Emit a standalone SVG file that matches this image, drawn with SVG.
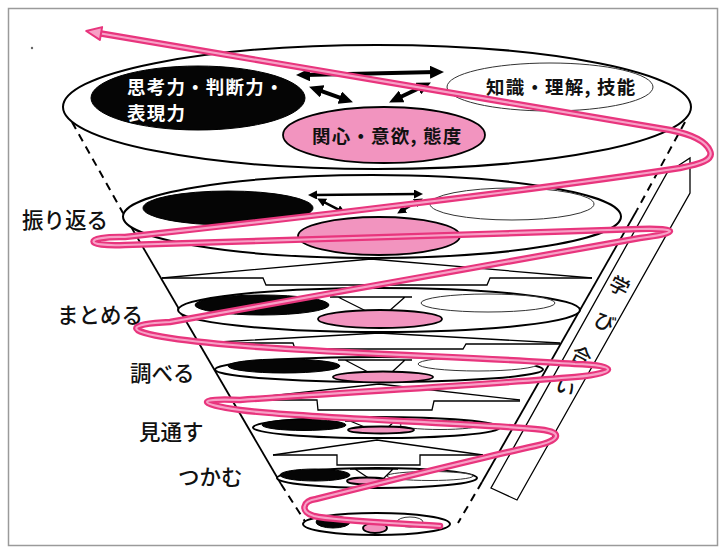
<svg xmlns="http://www.w3.org/2000/svg" width="725" height="550" viewBox="0 0 725 550">
<defs>
<style>
.frame{fill:none;stroke:#9a9a9a;stroke-width:1.5}
.lvl{fill:#fff;stroke:#000;stroke-width:2}
.blk{fill:#050505;stroke:#000;stroke-width:1}
.wht{fill:#fff;stroke:#333;stroke-width:1}
.pnk{fill:#f294bf;stroke:#000;stroke-width:1.8}
.edge{fill:none;stroke:#000;stroke-width:1.8}
.dash{fill:none;stroke:#000;stroke-width:2;stroke-dasharray:8 6}
.thin{fill:none;stroke:#000;stroke-width:1.3}
.arr{fill:none;stroke:#000;stroke-width:4;marker-start:url(#ah);marker-end:url(#ah)}
.arr2{fill:none;stroke:#000;stroke-width:2.5;marker-start:url(#ah2);marker-end:url(#ah2)}
.lab{font-family:"Noto Sans CJK JP","Noto Sans CJK SC",sans-serif;font-size:21.5px;font-weight:500;fill:#111}
.in{font-family:"Noto Sans CJK JP","Noto Sans CJK SC",sans-serif;font-weight:bold;font-size:18.5px;letter-spacing:1.2px}
.band{font-family:"Noto Sans CJK JP","Noto Sans CJK SC",sans-serif;font-size:20px;font-weight:500;fill:#111}
.spo{fill:none;stroke:#e8357d;stroke-width:6.5;stroke-linecap:round;stroke-linejoin:round}
.spi{fill:none;stroke:#f7a0c6;stroke-width:2.2;stroke-linecap:round;stroke-linejoin:round}
</style>
<marker id="ah" viewBox="0 0 14 13" refX="6" refY="6.5" markerWidth="14" markerHeight="13" markerUnits="userSpaceOnUse" orient="auto-start-reverse"><path d="M0,0 L14,6.5 L0,13 z" fill="#000"/></marker>
<marker id="ah2" viewBox="0 0 9 9" refX="4" refY="4.5" markerWidth="9" markerHeight="9" markerUnits="userSpaceOnUse" orient="auto-start-reverse"><path d="M0,0 L9,4.5 L0,9 z" fill="#000"/></marker>
</defs>

<rect class="frame" x="8.5" y="8.5" width="709" height="537"/>
<circle cx="32" cy="48" r="1.2" fill="#666"/>

<g id="connectors">
  <path class="dash" d="M72,122 L123,213"/>
  <path class="edge" d="M123,213 L281,484"/>
  <path class="dash" d="M281,484 L306,523"/>
  <path class="dash" d="M685,122 L637,210"/>
  <path class="edge" d="M637,210 L482,482"/>
  <path class="dash" d="M482,482 L458,523"/>
  <path class="thin" d="M162,278 L371,259 L592,278"/>
  <path class="thin" d="M162,278 L263,278 L266,285 L487,285 L490,278 L592,278"/>
  <path class="thin" d="M200,343 L379,333 L560,343"/>
  <path class="thin" d="M200,343 L293,343 L295,349 L463,349 L466,344 L560,344"/>
  <path class="thin" d="M232,400 L379,384 L520,400"/>
  <path class="thin" d="M232,400 L317,400 L318,410 L432,410 L434,401 L520,401"/>
  <path class="thin" d="M273,455 L377,440 L483,455"/>
  <path class="thin" d="M273,455 L337,455 L337,465 L420,465 L420,455 L483,455"/>
</g>

<g id="level1">
  <ellipse class="lvl" cx="377" cy="107" rx="314" ry="62" stroke-width="2.5"/>
  <ellipse class="blk" cx="198" cy="98" rx="107" ry="32"/>
  <ellipse class="wht" cx="550" cy="87" rx="103" ry="24"/>
  <ellipse class="pnk" cx="384" cy="135" rx="101" ry="28"/>
  <path class="arr" d="M304,74.9 L436,72.1"/>
  <path class="arr" d="M316.6,89.4 L345.4,99.6"/>
  <path class="arr" d="M396.3,99 L423.7,86"/>
  <text class="in" x="127" y="94" fill="#fff">思考力・判断力・</text>
  <text class="in" x="127" y="120" fill="#fff">表現力</text>
  <text class="in" x="486" y="94" fill="#111">知識・理解, 技能</text>
  <text class="in" x="312" y="143" fill="#111">関心・意欲, 態度</text>
</g>

<g id="level2">
  <ellipse class="lvl" cx="372" cy="216.5" rx="249" ry="41.5"/>
  <ellipse class="blk" cx="228" cy="208" rx="85" ry="17"/>
  <ellipse class="wht" cx="512" cy="204" rx="82" ry="16"/>
  <ellipse class="pnk" cx="379" cy="236" rx="81" ry="19"/>
  <path class="arr2" d="M313,195 L418,194"/>
  <path class="arr2" d="M321.6,200.8 L341.4,211.2"/>
  <path class="arr2" d="M418.5,201 L401.5,211"/>
</g>

<g id="level3">
  <ellipse class="lvl" cx="379" cy="310" rx="201" ry="22"/>
  <ellipse class="blk" cx="262" cy="305" rx="67" ry="10"/>
  <ellipse class="wht" cx="488" cy="303" rx="67" ry="9"/>
  <path class="thin" d="M330,297 L412,297 M338,297 L368,312 M405,297 L388,312" stroke-width="1.8"/>
  <ellipse class="pnk" cx="380" cy="319" rx="62" ry="9" stroke-width="1.2"/>
</g>

<g id="level4">
  <ellipse class="lvl" cx="379" cy="369.5" rx="164" ry="12.5"/>
  <ellipse class="blk" cx="284" cy="366" rx="56" ry="7"/>
  <ellipse class="wht" cx="478" cy="364" rx="60" ry="7"/>
  <path class="thin" d="M338,360 L412,360 M345,360 L368,372 M405,360 L392,372" stroke-width="1.6"/>
  <ellipse class="pnk" cx="383" cy="377" rx="50" ry="5.5" stroke-width="1.1"/>
</g>

<g id="level5">
  <ellipse class="lvl" cx="376.5" cy="427.5" rx="123.5" ry="10.5"/>
  <ellipse class="blk" cx="304" cy="425" rx="42" ry="5.5"/>
  <ellipse class="wht" cx="440" cy="425" rx="40" ry="4.5"/>
  <path class="thin" d="M345,421 L400,421 M350,421 L372,430 M395,421 L385,430" stroke-width="1.4"/>
  <ellipse class="pnk" cx="381" cy="430" rx="33" ry="3.5" stroke-width="1"/>
</g>

<g id="level6">
  <ellipse class="lvl" cx="377" cy="478" rx="100" ry="10"/>
  <ellipse class="blk" cx="315" cy="475" rx="35" ry="6"/>
  <ellipse class="wht" cx="430" cy="476" rx="43" ry="4.5"/>
  <path class="thin" d="M350,469 L398,469 M355,469 L370,479 M393,469 L383,479" stroke-width="1.4"/>
  <ellipse class="pnk" cx="367" cy="481" rx="20" ry="3.5" stroke-width="1"/>
</g>

<g id="level7">
  <ellipse class="lvl" cx="376.5" cy="524" rx="73.5" ry="11"/>
  <ellipse class="blk" cx="333" cy="522" rx="17" ry="6"/>
  <ellipse class="pnk" cx="375" cy="528" rx="12" ry="5" stroke-width="1"/>
  <ellipse class="wht" cx="410" cy="522" rx="13" ry="5"/>
</g>

<g id="labels">
  <text class="lab" x="22" y="228">振り返る</text>
  <text class="lab" x="57" y="323">まとめる</text>
  <text class="lab" x="130" y="381">調べる</text>
  <text class="lab" x="139" y="440">見通す</text>
  <text class="lab" x="178" y="485">つかむ</text>
</g>

<g id="manabiai">
  <polygon class="thin" fill="#fff" points="667,173 690,158 690,193 517,500 491,488"/>
  <text class="band" x="620" y="285" text-anchor="middle" dominant-baseline="central" transform="rotate(27 620 285)">学</text>
  <text class="band" x="605" y="321" text-anchor="middle" dominant-baseline="central" transform="rotate(27 605 321)">び</text>
  <text class="band" x="582" y="355" text-anchor="middle" dominant-baseline="central" transform="rotate(27 582 355)">合</text>
  <text class="band" x="566" y="386" text-anchor="middle" dominant-baseline="central" transform="rotate(27 566 386)">い</text>
</g>

<g id="spiral">
  <path class="spo" d="M440,526 C395,523 335,521 314,516 C300,512 302,501 316,499 C400,478 480,458 535,446 C562,440 564,431 535,429 C450,422 300,418 240,410 C196,404 196,398 240,400 C350,392 480,385 575,377 C619,373 619,365 575,364 C470,356 260,352 170,338 C125,331 125,324 170,322 L640,238 C680,233 680,228 640,229 C500,233 250,242 125,245 C83,247 83,236 125,237 C300,218 550,188 680,168 C700,164 714,160 710,151 C706,141 690,134 670,130 L101,33.5"/>
  <path class="spi" d="M440,526 C395,523 335,521 314,516 C300,512 302,501 316,499 C400,478 480,458 535,446 C562,440 564,431 535,429 C450,422 300,418 240,410 C196,404 196,398 240,400 C350,392 480,385 575,377 C619,373 619,365 575,364 C470,356 260,352 170,338 C125,331 125,324 170,322 L640,238 C680,233 680,228 640,229 C500,233 250,242 125,245 C83,247 83,236 125,237 C300,218 550,188 680,168 C700,164 714,160 710,151 C706,141 690,134 670,130 L101,33.5"/>
  <polygon points="86.2,31 102.1,27.1 99.9,39.9" fill="#f7a0c6" stroke="#e8357d" stroke-width="2" stroke-linejoin="round"/>
</g>
</svg>
